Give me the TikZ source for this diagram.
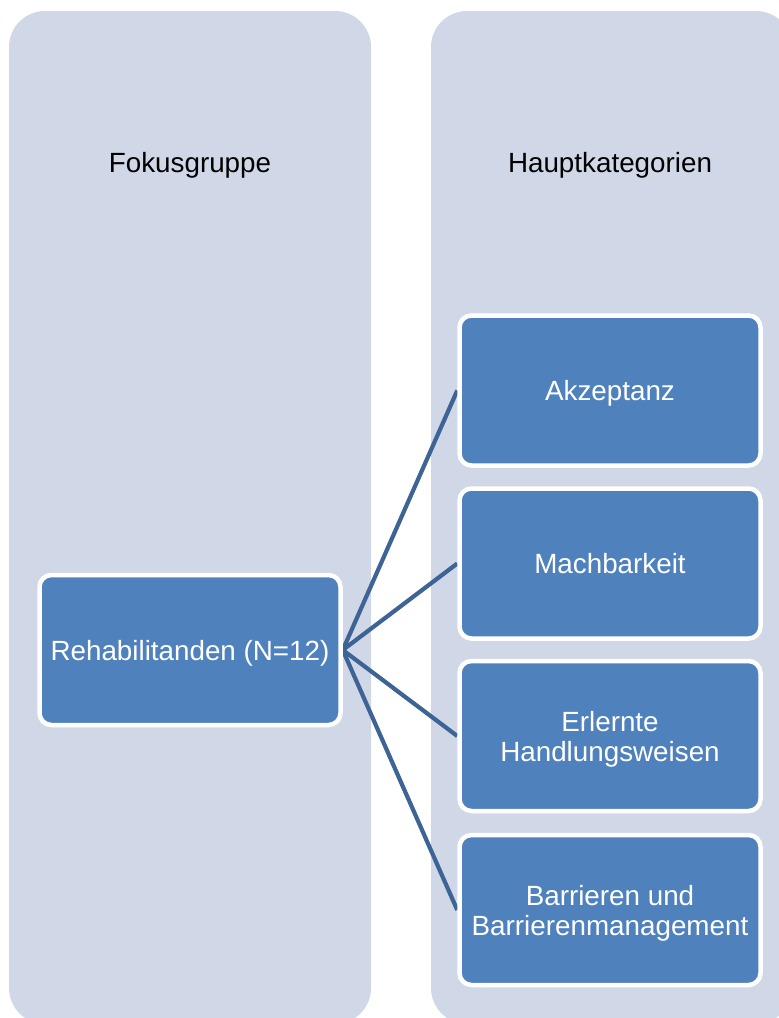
\documentclass[tikz,border=0pt]{standalone}
\usepackage{fontspec}
\setmainfont{Liberation Sans}
\definecolor{panelbg}{RGB}{208,216,232}
\definecolor{boxblue}{RGB}{79,129,189}
\definecolor{linkblue}{RGB}{62,100,150}
\pgfdeclarelayer{panels}
\pgfdeclarelayer{links}
\pgfsetlayers{panels,links,main}
\begin{document}
\begin{tikzpicture}[x=1pt,y=-1pt,
  panel/.style={fill=panelbg, draw=none, rounded corners=36pt},
  header/.style={anchor=base, text=black, font=\fontsize{27.8}{30}\selectfont, inner sep=0pt},
  catbox/.style={draw=white, line width=4.5pt, fill=boxblue, rounded corners=12pt,
    minimum width=301pt, minimum height=150pt, text=white, align=center,
    font=\fontsize{27.8}{30}\selectfont, inner sep=0pt, text height=20pt, text depth=0pt},
  twoline/.style={text height=50pt, text depth=0pt},
  link/.style={draw=linkblue, line width=4.2pt}]
  \useasboundingbox (0,0) rectangle (779,1018);

  % two column panels
  \begin{pgfonlayer}{panels}
    \path[panel] (9,11) rectangle (371,1024);
    \path[panel] (431,11) rectangle (792,1024);
  \end{pgfonlayer}

  % column headers
  \node[header] (hfocus) at (190,172) {Fokusgruppe};
  \node[header] (hcat) at (610,172) {Hauptkategorien};

  % focus group and main categories
  \node[catbox] (reha) at (190,650) {Rehabilitanden (N=12)};
  \node[catbox] (akz) at (610,390.5) {Akzeptanz};
  \node[catbox] (mach) at (610,563.5) {Machbarkeit};
  \node[catbox, twoline] (erl) at (610,736) {Erlernte\\Handlungsweisen};
  \node[catbox, twoline] (barr) at (610,910) {Barrieren und\\Barrierenmanagement};

  % connectors behind the boxes
  \begin{pgfonlayer}{links}
    \foreach \c in {akz,mach,erl,barr}
      \draw[link] (reha.east) -- (\c.west);
  \end{pgfonlayer}
\end{tikzpicture}
\end{document}
